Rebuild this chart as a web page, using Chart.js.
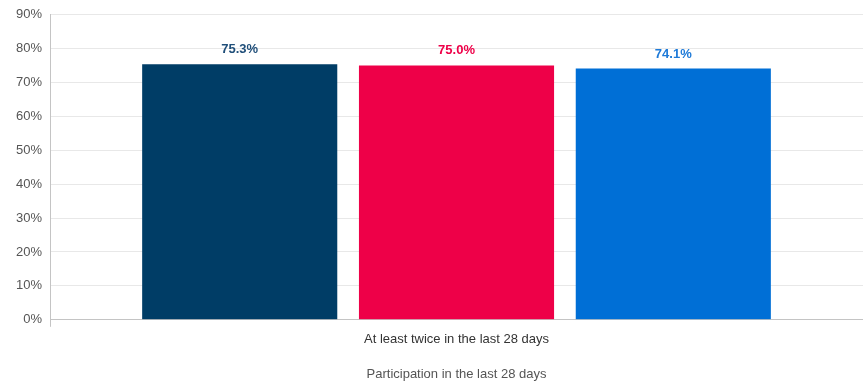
<!DOCTYPE html>
<html>
<head>
<meta charset="utf-8">
<script src="https://cdn.jsdelivr.net/npm/chart.js@4"></script>
<style>
  html, body { margin: 0; padding: 0; background: #fff; }
  #wrap { width: 863px; height: 384px; overflow: hidden; }
</style>
</head>
<body>
<div id="wrap"><canvas id="participationChart"></canvas></div>
<script>
const categories = ['At least twice in the last 28 days'];
const seriesNames = ['Group A', 'Group B', 'Group C'];
const seriesValues = [[75.3], [75.0], [74.1]];
const barColors = ['#003d66', '#ee0048', '#006fd6'];
const labelColors = ['#1f4e79', '#ee0048', '#1e7ad8'];
const yTicks = [0, 10, 20, 30, 40, 50, 60, 70, 80, 90];

const FONT = '"Liberation Sans", Arial, sans-serif';

// draws the value over each bar in the bar's colour
const valueLabels = {
  id: 'valueLabels',
  afterDatasetsDraw(chart) {
    const ctx = chart.ctx;
    ctx.save();
    ctx.font = 'bold 13px ' + FONT;
    ctx.textAlign = 'center';
    ctx.textBaseline = 'bottom';
    chart.data.datasets.forEach((ds, i) => {
      const meta = chart.getDatasetMeta(i);
      meta.data.forEach((bar, j) => {
        ctx.fillStyle = labelColors[i];
        ctx.fillText(ds.data[j].toFixed(1) + '%', bar.x, bar.y - 8);
      });
    });
    ctx.restore();
  }
};

new Chart(document.getElementById('participationChart'), {
  type: 'bar',
  data: {
    labels: categories,
    datasets: seriesNames.map((name, i) => ({
      label: name,
      data: seriesValues[i],
      backgroundColor: barColors[i],
      borderColor: barColors[i],
      borderWidth: 0,
      categoryPercentage: 0.8,
      barPercentage: 0.9
    }))
  },
  options: {
    responsive: true,
    maintainAspectRatio: false,
    animation: false,
    // plot runs slightly past the right edge so the bar group sits a bit right of centre
    layout: { padding: { top: 5, right: -5, left: 8, bottom: 2 } },
    plugins: {
      legend: { display: false },
      tooltip: { enabled: false }
    },
    scales: {
      y: {
        min: 0,
        max: 90,
        afterBuildTicks: axis => { axis.ticks = yTicks.map(v => ({ value: v })); },
        ticks: {
          color: '#555',
          font: { family: FONT, size: 13, lineHeight: 1 },
          padding: 8,
          callback: v => v + '%'
        },
        grid: { color: '#e8e8e8', drawTicks: false },
        border: { color: '#c4c4c4' }
      },
      x: {
        ticks: {
          color: '#333',
          font: { family: FONT, size: 13 },
          padding: 5
        },
        // only the left tick mark below the axis
        grid: {
          drawOnChartArea: false,
          color: c => (c.index === 0 ? '#c4c4c4' : 'rgba(0,0,0,0)'),
          tickLength: 7
        },
        border: { color: '#c4c4c4' },
        title: {
          display: true,
          text: 'Participation in the last 28 days',
          color: '#555',
          font: { family: FONT, size: 13 },
          padding: { top: 14, bottom: 0 }
        }
      }
    }
  },
  plugins: [valueLabels]
});
</script>
</body>
</html>
